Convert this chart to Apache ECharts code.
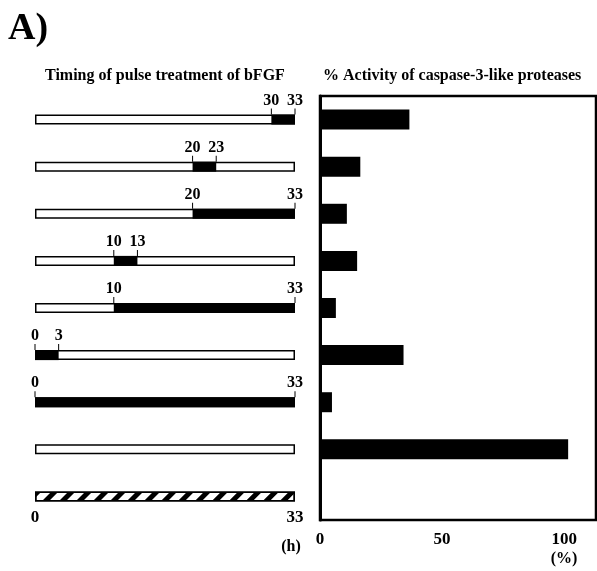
<!DOCTYPE html>
<html>
<head>
<meta charset="utf-8">
<script src="https://cdn.jsdelivr.net/npm/echarts@6/dist/echarts.min.js"></script>
<style>
html, body { margin: 0; padding: 0; background: #fff; }
#chart { width: 597px; height: 571px; }
</style>
</head>
<body>
<div id="chart"></div>
<script>
// rows, top to bottom
var rows = ['30-33 h', '20-23 h', '20-33 h', '10-13 h', '10-33 h', '0-3 h', '0-33 h', 'none', 'control'];
// pulse window of bFGF (h), null = no pulse
var pulseStart = [30, 20, 20, 10, 10, 0, 0, null, null];
var pulseEnd = [33, 23, 33, 13, 33, 3, 33, null, null];
var culture = [33, 33, 33, 33, 33, 33, 33, 33, 33];
// % activity of caspase-3-like proteases
var activity = [36.6, 16.5, 11, 15.2, 6.5, 34.2, 4.9, 101.6, 0];
var hatchedRow = 8;
var timeLabels = [0, 33];
var pctLabels = [0, 50, 100];

var serif = 'Liberation Serif';

function showChart(divId) {
	var chart = echarts.init(document.getElementById(divId));
	chart.setOption(genOption(), true);
}

function genOption() {
	var spanData = culture.map(function (v, i) {
		if (i === hatchedRow) {
			return {
				value: v,
				itemStyle: {
					decal: {
						symbol: 'rect',
						symbolSize: 1,
						color: '#000',
						dashArrayX: [1, 0],
						dashArrayY: [5, 7],
						rotation: -Math.PI / 4
					}
				}
			};
		}
		return v;
	});
	var offsetData = pulseStart.map(function (v) { return v === null ? '-' : v; });
	var pulseData = pulseStart.map(function (v, i) {
		return v === null ? '-' : pulseEnd[i] - v;
	});
	var markData = [];
	pulseStart.forEach(function (v, i) {
		if (v !== null) {
			markData.push([v, i]);
			markData.push([pulseEnd[i], i]);
		}
	});

	var option = {
		animation: false,
		title: [{
			text: 'A)',
			left: 3,
			top: 5,
			textStyle: { fontFamily: serif, fontWeight: 'bold', fontSize: 38, color: '#000' }
		}, {
			text: 'Timing of pulse treatment of bFGF',
			left: 40,
			top: 63,
			textStyle: { fontFamily: serif, fontWeight: 'bold', fontSize: 16, color: '#000' }
		}, {
			text: '% Activity of caspase-3-like proteases',
			left: 318,
			top: 63,
			textStyle: { fontFamily: serif, fontWeight: 'bold', fontSize: 16, color: '#000' }
		}],
		grid: [{
			left: 35,
			width: 260,
			top: 96,
			bottom: 51,
			outerBoundsMode: 'none'
		}, {
			left: 320,
			right: 1,
			top: 96,
			bottom: 51,
			outerBoundsMode: 'none',
			show: true,
			borderColor: '#000',
			borderWidth: 2.5
		}],
		xAxis: [{
			gridIndex: 0,
			type: 'value',
			min: 0,
			max: 33,
			interval: 33,
			offset: -13,
			splitLine: { show: false },
			axisLine: { show: false },
			axisTick: { show: false },
			axisLabel: {
				margin: 2,
				fontFamily: serif,
				fontWeight: 'bold',
				fontSize: 17,
				color: '#000',
				formatter: function (v) { return timeLabels.indexOf(v) >= 0 ? String(v) : ''; }
			},
			name: '(h)',
			nameLocation: 'end',
			nameGap: -4,
			nameTextStyle: {
				fontFamily: serif, fontWeight: 'bold', fontSize: 16, color: '#000',
				align: 'center', verticalAlign: 'top', padding: [32, 0, 0, 0]
			}
		}, {
			gridIndex: 1,
			type: 'value',
			min: 0,
			max: 113,
			interval: 25,
			splitLine: { show: false },
			axisLine: { lineStyle: { color: '#000', width: 3 } },
			axisTick: { inside: true, length: 4, lineStyle: { color: '#000', width: 1 } },
			axisLabel: {
				margin: 11,
				showMaxLabel: false,
				fontFamily: serif,
				fontWeight: 'bold',
				fontSize: 17,
				color: '#000',
				formatter: function (v) { return pctLabels.indexOf(v) >= 0 ? String(v) : ''; }
			},
			name: '(%)',
			nameLocation: 'end',
			nameGap: -32,
			nameTextStyle: {
				fontFamily: serif, fontWeight: 'bold', fontSize: 16, color: '#000',
				align: 'center', verticalAlign: 'top', padding: [31, 0, 0, 0]
			}
		}],
		yAxis: [{
			gridIndex: 0,
			type: 'category',
			data: rows,
			inverse: true,
			show: false
		}, {
			gridIndex: 1,
			type: 'category',
			data: rows,
			inverse: true,
			axisLine: { lineStyle: { color: '#000', width: 3 } },
			axisTick: { inside: true, length: 4, lineStyle: { color: '#000', width: 1 } },
			axisLabel: { show: false }
		}],
		series: [{
			name: 'culture',
			type: 'bar',
			xAxisIndex: 0,
			yAxisIndex: 0,
			barWidth: 10,
			barGap: '-100%',
			itemStyle: { color: '#fff', borderColor: '#000', borderWidth: 1.5 },
			data: spanData,
			z: 2
		}, {
			name: 'offset',
			type: 'bar',
			xAxisIndex: 0,
			yAxisIndex: 0,
			stack: 'pulse',
			barWidth: 10,
			barGap: '-100%',
			itemStyle: { color: 'rgba(0,0,0,0)' },
			data: offsetData,
			z: 3
		}, {
			name: 'bFGF',
			type: 'bar',
			xAxisIndex: 0,
			yAxisIndex: 0,
			stack: 'pulse',
			barWidth: 10,
			barGap: '-100%',
			itemStyle: { color: '#000' },
			data: pulseData,
			z: 3
		}, {
			name: 'marks',
			type: 'scatter',
			xAxisIndex: 0,
			yAxisIndex: 0,
			symbol: 'rect',
			symbolSize: [1, 6],
			symbolOffset: [0, -8],
			itemStyle: { color: '#000', opacity: 1 },
			label: {
				show: true,
				position: 'top',
				distance: 0,
				fontFamily: serif,
				fontWeight: 'bold',
				fontSize: 16,
				color: '#000',
				formatter: function (p) { return String(p.value[0]); }
			},
			data: markData,
			z: 4
		}, {
			name: 'activity',
			type: 'bar',
			xAxisIndex: 1,
			yAxisIndex: 1,
			barWidth: 20,
			itemStyle: { color: '#000' },
			data: activity
		}]
	};
	return option;
}

showChart('chart');
</script>
</body>
</html>
